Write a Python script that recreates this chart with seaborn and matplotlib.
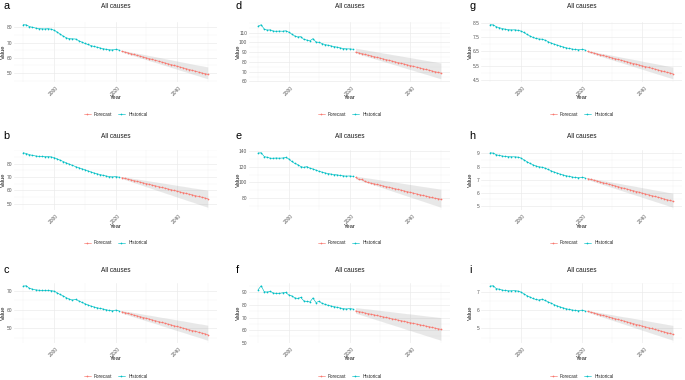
import pandas as pd
import seaborn as sns
import matplotlib.pyplot as plt
from matplotlib.ticker import AutoMinorLocator, FixedLocator

hist_years = list(range(1990, 2022))
fc_years = list(range(2022, 2051))

# panel a
hist_a = [81.8, 81.7, 80.6, 80.1, 79.6, 79.3, 79.1, 79.0, 79.2, 78.9, 78.2, 77.0, 75.6, 74.3, 73.2, 72.6,
          72.5, 72.4, 71.3, 70.4, 69.5, 68.8, 68.1, 67.5, 67.0, 66.5, 66.0, 65.6, 65.3, 65.2, 65.5, 65.2]
fc_a = [64.4, 63.8, 63.3, 62.7, 62.2, 61.6, 61.1, 60.5, 60.0, 59.4, 58.9, 58.3, 57.8, 57.2, 56.7, 56.1,
        55.6, 55.0, 54.5, 53.9, 53.4, 52.8, 52.3, 51.7, 51.2, 50.6, 50.1, 49.6, 49.1]
up_a = [65.0, 64.6, 64.2, 63.8, 63.4, 63.0, 62.7, 62.3, 61.9, 61.5, 61.1, 60.7, 60.3, 59.9, 59.5, 59.1,
        58.7, 58.3, 57.9, 57.5, 57.1, 56.7, 56.3, 55.9, 55.5, 55.1, 54.8, 54.4, 54.0]
lo_a = [63.8, 63.2, 62.5, 61.9, 61.3, 60.7, 60.0, 59.4, 58.8, 58.1, 57.5, 56.9, 56.3, 55.6, 55.0, 54.4,
        53.7, 53.1, 52.5, 51.8, 51.2, 50.6, 50.0, 49.3, 48.7, 48.1, 47.4, 46.8, 46.2]

# panel b
hist_b = [88.2, 87.6, 86.8, 86.2, 85.8, 85.5, 85.4, 85.3, 85.3, 85.1, 84.6, 83.6, 82.6, 81.6, 80.6, 79.6,
          78.7, 77.8, 77.0, 76.2, 75.5, 74.6, 73.8, 73.0, 72.4, 71.8, 71.2, 70.7, 70.3, 70.0, 70.3, 69.9]
fc_b = [69.5, 68.9, 68.3, 67.8, 67.2, 66.7, 66.1, 65.5, 65.0, 64.4, 63.8, 63.3, 62.7, 62.1, 61.6, 61.0,
        60.4, 59.9, 59.3, 58.7, 58.2, 57.6, 57.0, 56.5, 55.9, 55.3, 54.8, 54.2, 53.6]
up_b = [70.3, 69.9, 69.6, 69.2, 68.8, 68.5, 68.1, 67.7, 67.4, 67.0, 66.6, 66.3, 65.9, 65.5, 65.2, 64.8,
        64.4, 64.1, 63.7, 63.3, 63.0, 62.6, 62.2, 61.8, 61.5, 61.1, 60.7, 60.4, 60.0]
lo_b = [68.8, 68.0, 67.3, 66.5, 65.7, 65.0, 64.2, 63.4, 62.6, 61.9, 61.1, 60.3, 59.5, 58.8, 58.0, 57.2,
        56.5, 55.7, 54.9, 54.1, 53.4, 52.6, 51.8, 51.1, 50.3, 49.5, 48.7, 48.0, 47.2]

# panel c
hist_c = [72.7, 72.9, 71.5, 71.1, 70.7, 70.5, 70.4, 70.4, 70.4, 70.3, 70.0, 69.1, 68.2, 67.4, 66.5, 65.7,
          65.2, 65.6, 64.8, 64.0, 63.3, 62.6, 62.0, 61.5, 61.1, 60.7, 60.4, 60.0, 59.6, 59.4, 59.8, 59.5]
fc_c = [58.9, 58.5, 58.0, 57.6, 57.1, 56.7, 56.3, 55.8, 55.4, 55.0, 54.5, 54.1, 53.6, 53.2, 52.8, 52.3,
        51.9, 51.4, 51.0, 50.6, 50.1, 49.7, 49.2, 48.8, 48.4, 47.9, 47.5, 47.1, 46.6]
up_c = [59.6, 59.3, 59.0, 58.8, 58.5, 58.2, 57.9, 57.6, 57.3, 57.1, 56.8, 56.5, 56.2, 55.9, 55.7, 55.4,
        55.1, 54.8, 54.5, 54.2, 54.0, 53.7, 53.4, 53.1, 52.8, 52.5, 52.3, 52.0, 51.7]
lo_c = [58.2, 57.7, 57.2, 56.6, 56.1, 55.6, 55.1, 54.6, 54.0, 53.5, 53.0, 52.5, 52.0, 51.4, 50.9, 50.4,
        49.9, 49.3, 48.8, 48.3, 47.8, 47.3, 46.7, 46.2, 45.7, 45.2, 44.7, 44.1, 43.6]

# panel d
hist_d = [116.5, 118.0, 113.5, 112.5, 112.8, 111.5, 111.3, 111.5, 111.3, 111.8, 110.5, 108.5, 106.5, 105.5,
          105.8, 103.0, 102.3, 101.5, 103.8, 100.3, 100.0, 98.7, 97.7, 97.0, 96.3, 95.6, 95.0, 94.3, 93.6,
          93.3, 93.3, 93.0]
fc_d = [90.0, 89.2, 88.5, 87.7, 86.9, 86.2, 85.4, 84.6, 83.9, 83.1, 82.3, 81.6, 80.8, 80.0, 79.2, 78.5,
        77.7, 76.9, 76.2, 75.4, 74.6, 73.9, 73.1, 72.3, 71.6, 70.8, 70.0, 69.3, 68.5]
up_d = [94.0, 93.5, 92.9, 92.4, 91.8, 91.3, 90.8, 90.2, 89.7, 89.1, 88.6, 88.1, 87.5, 87.0, 86.5, 85.9,
        85.4, 84.8, 84.3, 83.8, 83.2, 82.7, 82.1, 81.6, 81.1, 80.5, 80.0, 79.4, 78.9]
lo_d = [89.0, 88.1, 87.1, 86.2, 85.2, 84.3, 83.4, 82.4, 81.5, 80.5, 79.6, 78.7, 77.7, 76.8, 75.9, 74.9,
        74.0, 73.0, 72.1, 71.2, 70.2, 69.3, 68.3, 67.4, 66.5, 65.5, 64.6, 63.6, 62.7]

# panel e
hist_e = [137.0, 137.4, 132.6, 131.7, 130.5, 130.5, 130.8, 130.5, 130.8, 131.5, 129.8, 126.5, 124.0, 122.5,
          120.0, 119.0, 120.0, 118.0, 117.0, 115.5, 114.0, 113.0, 112.0, 111.2, 110.5, 110.0, 109.5, 108.8,
          108.3, 108.0, 108.2, 107.8]
fc_e = [106.5, 104.0, 103.8, 101.5, 100.0, 99.2, 98.4, 97.5, 96.6, 95.7, 94.8, 93.9, 93.0, 92.1, 91.2, 90.3,
        89.3, 88.4, 87.5, 86.6, 85.6, 84.7, 83.8, 82.9, 82.0, 81.1, 80.2, 79.6, 78.8]
up_e = [108.0, 107.4, 106.8, 106.2, 105.6, 105.1, 104.5, 103.9, 103.3, 102.7, 102.1, 101.5, 100.9, 100.3,
        99.8, 99.2, 98.6, 98.0, 97.4, 96.8, 96.2, 95.6, 95.0, 94.5, 93.9, 93.3, 92.7, 92.1, 91.5]
lo_e = [104.5, 103.2, 102.0, 100.7, 99.4, 98.1, 96.9, 95.6, 94.3, 93.0, 91.8, 90.5, 89.2, 87.9, 86.7, 85.4,
        84.1, 82.8, 81.6, 80.3, 79.0, 77.7, 76.5, 75.2, 73.9, 72.6, 71.4, 70.1, 68.8]

# panel f
hist_f = [92.1, 95.3, 90.5, 90.3, 90.8, 89.5, 89.2, 89.2, 89.7, 90.0, 88.1, 87.3, 85.7, 85.2, 86.0, 83.3,
          82.8, 82.4, 85.6, 81.9, 83.0, 81.3, 80.5, 79.7, 79.2, 78.7, 78.1, 77.6, 77.1, 76.8, 77.2, 76.9]
fc_f = [75.3, 74.8, 74.3, 73.7, 73.2, 72.7, 72.2, 71.7, 71.1, 70.6, 70.1, 69.6, 69.0, 68.5, 68.0, 67.5,
        67.0, 66.4, 65.9, 65.4, 64.9, 64.4, 63.8, 63.3, 62.8, 62.3, 61.7, 61.2, 60.7]
up_f = [78.0, 77.7, 77.4, 77.1, 76.9, 76.6, 76.3, 76.0, 75.7, 75.4, 75.1, 74.9, 74.6, 74.3, 74.0, 73.7,
        73.4, 73.1, 72.9, 72.6, 72.3, 72.0, 71.7, 71.4, 71.1, 70.9, 70.6, 70.3, 70.0]
lo_f = [73.5, 72.7, 72.0, 71.2, 70.4, 69.7, 68.9, 68.1, 67.4, 66.6, 65.8, 65.1, 64.3, 63.5, 62.8, 62.0,
        61.2, 60.4, 59.7, 58.9, 58.1, 57.4, 56.6, 55.8, 55.1, 54.3, 53.5, 52.8, 52.0]

# panel g
hist_g = [8.39, 8.38, 8.25, 8.18, 8.12, 8.07, 8.04, 8.02, 8.03, 8.00, 7.95, 7.85, 7.72, 7.60, 7.50, 7.42,
          7.38, 7.37, 7.30, 7.20, 7.10, 7.02, 6.95, 6.88, 6.82, 6.76, 6.71, 6.67, 6.64, 6.62, 6.64, 6.62]
fc_g = [6.50, 6.44, 6.39, 6.33, 6.27, 6.22, 6.16, 6.11, 6.05, 5.99, 5.94, 5.88, 5.82, 5.77, 5.71, 5.65,
        5.60, 5.54, 5.48, 5.43, 5.37, 5.32, 5.26, 5.20, 5.15, 5.09, 5.03, 4.98, 4.92]
up_g = [6.56, 6.52, 6.48, 6.44, 6.39, 6.35, 6.31, 6.27, 6.23, 6.19, 6.15, 6.10, 6.06, 6.02, 5.98, 5.94,
        5.90, 5.86, 5.81, 5.77, 5.73, 5.69, 5.65, 5.61, 5.57, 5.52, 5.48, 5.44, 5.40]
lo_g = [6.44, 6.37, 6.31, 6.24, 6.17, 6.11, 6.04, 5.97, 5.91, 5.84, 5.77, 5.71, 5.64, 5.57, 5.51, 5.44,
        5.37, 5.30, 5.24, 5.17, 5.10, 5.04, 4.97, 4.90, 4.84, 4.77, 4.70, 4.64, 4.57]

# panel h
hist_h = [9.05, 9.02, 8.90, 8.84, 8.80, 8.77, 8.75, 8.74, 8.74, 8.72, 8.66, 8.52, 8.38, 8.25, 8.14, 8.05,
          7.98, 7.95, 7.88, 7.78, 7.68, 7.58, 7.50, 7.42, 7.36, 7.30, 7.25, 7.20, 7.17, 7.15, 7.18, 7.15]
fc_h = [7.08, 7.02, 6.96, 6.90, 6.83, 6.77, 6.71, 6.65, 6.59, 6.53, 6.47, 6.40, 6.34, 6.28, 6.22, 6.16,
        6.10, 6.04, 5.97, 5.91, 5.85, 5.79, 5.73, 5.67, 5.61, 5.54, 5.48, 5.42, 5.36]
up_h = [7.15, 7.11, 7.07, 7.02, 6.98, 6.94, 6.90, 6.86, 6.81, 6.77, 6.73, 6.69, 6.64, 6.60, 6.56, 6.52,
        6.48, 6.43, 6.39, 6.35, 6.31, 6.26, 6.22, 6.18, 6.14, 6.10, 6.05, 6.01, 5.97]
lo_h = [7.00, 6.93, 6.85, 6.78, 6.70, 6.63, 6.55, 6.48, 6.40, 6.33, 6.25, 6.18, 6.10, 6.03, 5.95, 5.88,
        5.80, 5.73, 5.65, 5.58, 5.50, 5.43, 5.35, 5.28, 5.20, 5.13, 5.05, 4.98, 4.90]

# panel i
hist_i = [7.34, 7.36, 7.20, 7.17, 7.12, 7.10, 7.08, 7.08, 7.09, 7.07, 7.02, 6.92, 6.82, 6.74, 6.66, 6.60,
          6.57, 6.62, 6.55, 6.47, 6.40, 6.32, 6.25, 6.19, 6.14, 6.09, 6.05, 6.02, 6.00, 5.99, 6.01, 5.99]
fc_i = [5.95, 5.90, 5.86, 5.81, 5.77, 5.72, 5.68, 5.63, 5.59, 5.54, 5.50, 5.45, 5.41, 5.36, 5.32, 5.27,
        5.22, 5.18, 5.13, 5.09, 5.04, 5.00, 4.95, 4.91, 4.86, 4.82, 4.77, 4.73, 4.68]
up_i = [6.00, 5.97, 5.94, 5.91, 5.88, 5.85, 5.82, 5.79, 5.76, 5.73, 5.70, 5.67, 5.64, 5.62, 5.59, 5.56,
        5.53, 5.50, 5.47, 5.44, 5.41, 5.38, 5.35, 5.32, 5.29, 5.26, 5.23, 5.20, 5.17]
lo_i = [5.90, 5.84, 5.79, 5.73, 5.68, 5.62, 5.57, 5.51, 5.46, 5.40, 5.35, 5.29, 5.24, 5.18, 5.13, 5.07,
        5.01, 4.96, 4.90, 4.85, 4.79, 4.74, 4.68, 4.63, 4.57, 4.52, 4.46, 4.41, 4.35]

y_ticks = {
    'a': [50, 60, 70, 80], 'b': [50, 60, 70, 80], 'c': [50, 60, 70],
    'd': [60, 70, 80, 90, 100, 110], 'e': [80, 100, 120, 140], 'f': [50, 60, 70, 80, 90],
    'g': [4.5, 5.5, 6.5, 7.5, 8.5], 'h': [5, 6, 7, 8, 9], 'i': [5, 6, 7],
}

panels = [
    ('a', hist_a, fc_a, up_a, lo_a), ('b', hist_b, fc_b, up_b, lo_b), ('c', hist_c, fc_c, up_c, lo_c),
    ('d', hist_d, fc_d, up_d, lo_d), ('e', hist_e, fc_e, up_e, lo_e), ('f', hist_f, fc_f, up_f, lo_f),
    ('g', hist_g, fc_g, up_g, lo_g), ('h', hist_h, fc_h, up_h, lo_h), ('i', hist_i, fc_i, up_i, lo_i),
]

palette = {'Forecast': '#F8766D', 'Historical': '#00BFC4'}

# layout in pixels of the 685x380 canvas
W, H = 685, 380
col_x = [(14, 217), (249, 450), (481, 682)]
col_off = [0, 233, 466]
row_y = [(22, 81.5), (150, 210), (283, 343)]
letter_y = [6, 136, 270]
title_y = [7, 137, 271]

sns.set_style('white')
plt.rcParams['font.family'] = ['Liberation Sans', 'DejaVu Sans']

fig = plt.figure(figsize=(6.85, 3.8), dpi=100)

for k, (letter, hist, fc, up, lo) in enumerate(panels):
    col, row = k // 3, k % 3
    x0, x1 = col_x[col]
    y0, y1 = row_y[row]
    wpx, hpx = x1 - x0, y1 - y0
    ax = fig.add_axes([x0 / W, 1 - y1 / H, wpx / W, hpx / H])

    df = pd.DataFrame({
        'Year': hist_years + fc_years,
        'Value': hist + fc,
        'Type': ['Historical'] * len(hist) + ['Forecast'] * len(fc),
    })

    ax.fill_between(fc_years, lo, up, color='#9a9a9a', alpha=0.22, linewidth=0, zorder=1)
    sns.lineplot(data=df, x='Year', y='Value', hue='Type', hue_order=['Forecast', 'Historical'],
                 palette=palette, marker='o', markersize=1.25, markeredgewidth=0, linewidth=0.45,
                 ax=ax, zorder=3)

    # ggplot-like 5% expansion
    lo_v, hi_v = min(hist + lo), max(hist + up)
    pad = (hi_v - lo_v) * 0.05
    ax.set_ylim(lo_v - pad, hi_v + pad)
    ax.set_xlim(1987, 2053)

    ax.set_xticks([2000, 2020, 2040])
    ax.xaxis.set_minor_locator(FixedLocator([1990, 2010, 2030, 2050]))
    ax.set_yticks(y_ticks[letter])
    ax.yaxis.set_minor_locator(AutoMinorLocator(2))
    ax.grid(which='major', color='#EBEBEB', linewidth=0.5)
    ax.grid(which='minor', color='#F3F3F3', linewidth=0.35)
    ax.set_axisbelow(True)
    for s in ax.spines.values():
        s.set_visible(False)
    ax.tick_params(which='both', length=0, labelsize=3.5, labelcolor='#555555')
    ax.tick_params(axis='y', pad=1.2)
    ax.tick_params(axis='x', pad=2.5)
    for lab in ax.get_xticklabels():
        lab.set_rotation(45)
        lab.set_ha('center')
        lab.set_va('top')

    ax.set_xlabel('Year', fontsize=4.2, color='#1a1a1a')
    ax.xaxis.set_label_coords(0.5, -16 / hpx)
    ax.xaxis.label.set_va('center')
    ax.set_ylabel('Value', fontsize=4.2, color='#1a1a1a')
    ax.yaxis.set_label_coords(-11 / wpx, 0.5)
    ax.yaxis.label.set_va('center')

    sns.move_legend(ax, 'center', bbox_to_anchor=(0.5, -33 / hpx), ncol=2, frameon=False,
                    title=None, fontsize=3.3, handlelength=1.6, handletextpad=0.7,
                    columnspacing=1.1)

    fig.text((x0 + x1) / 2 / W, 1 - title_y[row] / H, 'All causes', ha='center', va='center',
             fontsize=4.7, color='#1a1a1a')
    fig.text((col_off[col] + 3) / W, 1 - letter_y[row] / H, letter, ha='left', va='center',
             fontsize=7.8, color='black')

fig.savefig('out.png', dpi=100)
